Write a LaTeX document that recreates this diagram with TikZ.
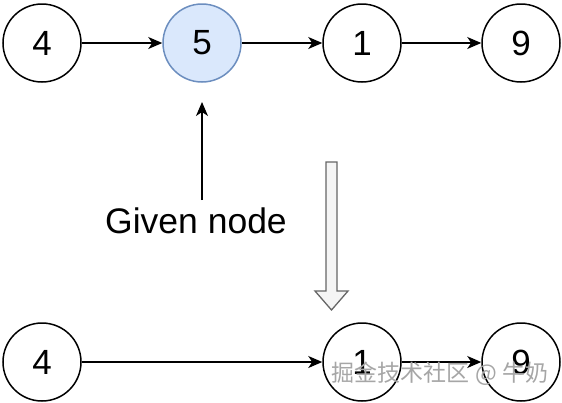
\documentclass[tikz,border=0pt]{standalone}
\usepackage{fontspec}
\setmainfont{Liberation Sans}
\newfontfamily\cjk{Noto Sans CJK SC}
\usetikzlibrary{arrows.meta,shapes.arrows}
\definecolor{bluefill}{HTML}{DAE8FC}
\definecolor{bluestroke}{HTML}{6C8EBF}
\definecolor{blockfill}{HTML}{F5F5F5}
\definecolor{blockstroke}{HTML}{666666}
\begin{document}
\begin{tikzpicture}[x=1pt,y=-1pt,
  listnode/.style={circle,draw=black,line width=1.5pt,minimum size=78pt,inner sep=0pt,
    font=\fontsize{35}{40}\selectfont},
  given/.style={listnode,fill=bluefill,draw=bluestroke},
  link/.style={line width=1.4pt,-{Stealth[length=14pt,width=12pt,inset=4pt]}}
]
\useasboundingbox (0,0) rectangle (562,402);
\node[listnode] (a4) at (42,43) {4};
\node[given] (a5) at (202,43) {5};
\node[listnode] (a1) at (362,43) {1};
\node[listnode] (a9) at (521,43) {9};
\draw[link] (a4) -- (a5);
\draw[link] (a5) -- (a1);
\draw[link] (a1) -- (a9);

\node[font=\fontsize{35.5}{40}\selectfont] (lbl) at (196,221) {Given node};
\coordinate (lbltop) at (202,200);
\coordinate (arrtip) at (202,102);
\draw[link] (lbltop) -- (arrtip);

\draw[fill=blockfill,draw=blockstroke,line width=1.3pt]
  (326,162) -- (337,162) -- (337,291) -- (348,291) -- (331.5,310) -- (315,291) -- (326,291) -- cycle;

\node[listnode] (b4) at (42,362) {4};
\node[listnode] (b1) at (362,362) {1};
\node[listnode] (b9) at (521,362) {9};
\draw[link] (b4) -- (b1);
\draw[link] (b1) -- (b9);

\node[font=\cjk\fontsize{23}{25}\selectfont,text=gray!70,anchor=center] (wm) at (440,374) {掘金技术社区 @ 牛奶};
\end{tikzpicture}
\end{document}
